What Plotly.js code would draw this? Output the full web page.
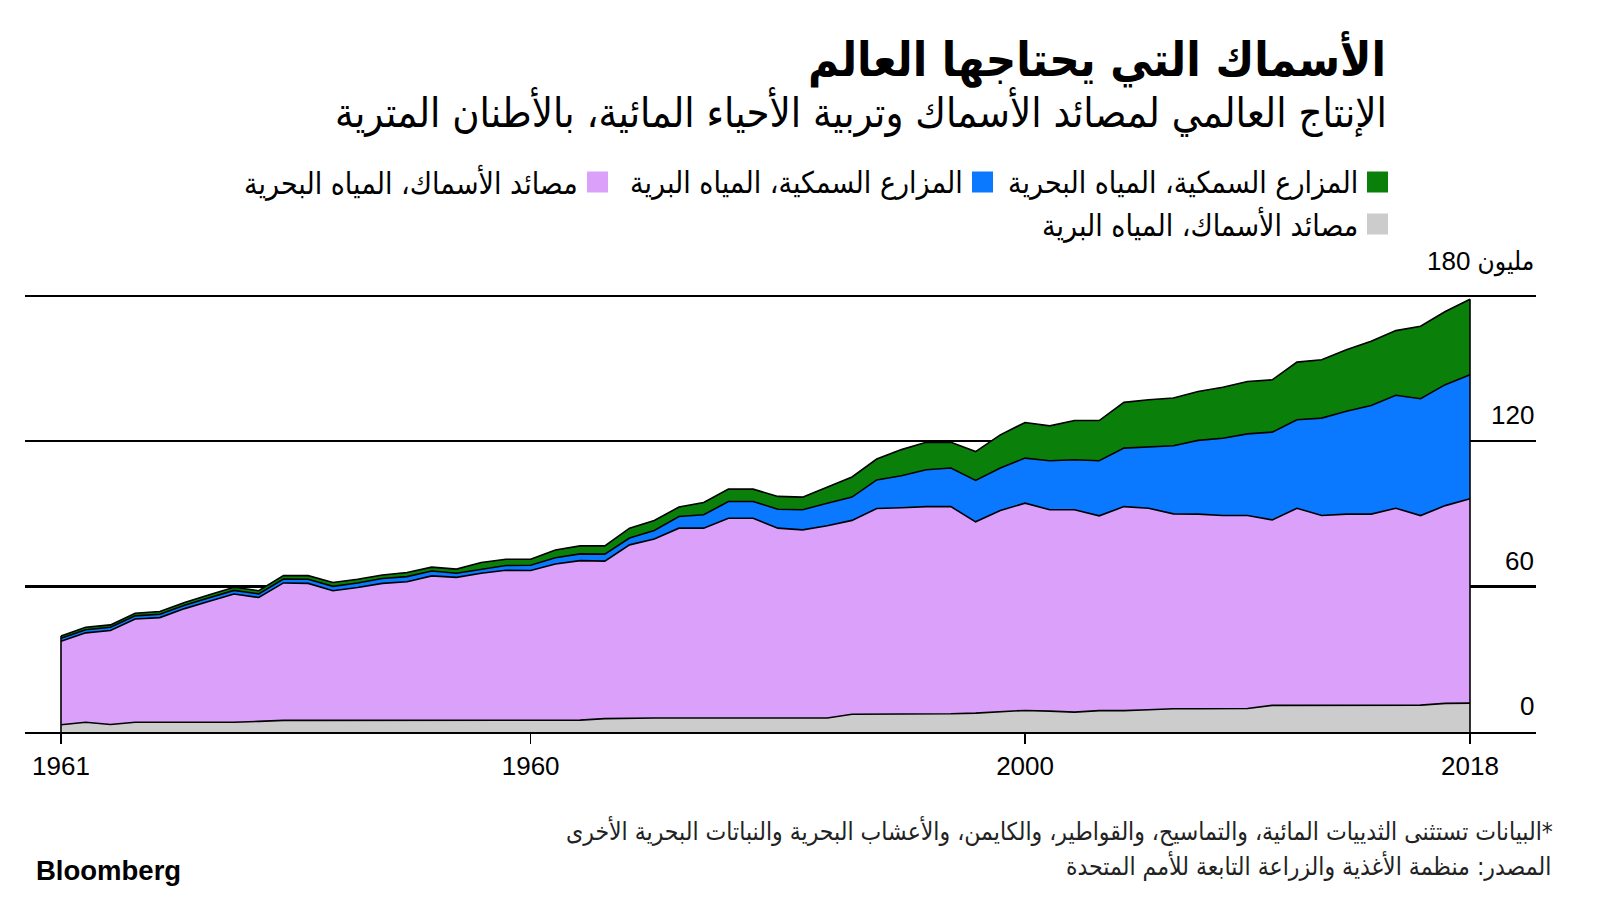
<!DOCTYPE html>
<html>
<head>
<meta charset="utf-8">
<script src="https://cdn.plot.ly/plotly-3.0.1.min.js"></script>
<style>html,body{margin:0;padding:0;background:#fff;}#chart{width:1600px;height:900px;}</style>
</head>
<body>
<div id="chart"></div>
<script>
// ---- Data (million tonnes) ----
const years = [1961,1962,1963,1964,1965,1966,1967,1968,1969,1970,1971,1972,1973,1974,1975,
  1976,1977,1978,1979,1980,1981,1982,1983,1984,1985,1986,1987,1988,1989,1990,
  1991,1992,1993,1994,1995,1996,1997,1998,1999,2000,2001,2002,2003,2004,
  2005,2006,2007,2008,2009,2010,2011,2012,2013,2014,2015,2016,2017,2018];

// Capture fisheries, inland waters (grey)
const inlandCapture = [3.0,4.0,3.1,4.0,4.0,4.0,4.0,4.0,4.4,4.8,4.8,4.8,4.8,4.8,4.8,
  4.8,4.8,4.8,4.8,4.8,4.8,4.9,5.5,5.8,5.8,5.8,5.8,5.8,5.8,5.8,
  5.8,5.8,7.3,7.3,7.3,7.4,7.5,7.8,8.2,8.9,8.6,8.2,8.8,8.8,
  9.2,9.6,9.6,9.6,9.7,11.0,11.0,11.0,11.0,11.0,11.0,11.1,11.8,11.9];

// Capture fisheries, marine waters (purple)
const marineCapture = [34.4,36.9,38.8,42.6,43.2,46.9,49.9,52.9,51.1,56.7,56.5,53.5,54.8,56.5,57.2,
  59.6,59.0,60.7,61.9,61.8,64.5,65.8,65.0,71.4,73.8,78.3,78.3,82.4,82.4,78.3,
  77.6,79.3,80.0,84.9,85.2,85.6,85.5,78.9,83.2,85.5,83.1,83.5,80.4,84.2,
  83.1,80.4,80.3,79.7,79.6,76.5,81.3,78.3,78.9,78.9,81.3,78.2,81.6,84.3];

// Aquaculture, inland waters (blue)
const inlandAqua = [1.3,1.3,1.3,1.3,1.4,1.4,1.5,1.5,1.5,1.6,1.7,1.8,1.9,2.0,2.1,
  2.0,1.7,1.7,2.0,2.2,2.6,2.8,2.9,2.8,3.5,4.8,5.5,6.9,6.9,7.8,
  8.3,9.3,9.6,11.8,13.2,15.2,15.9,17.1,17.5,18.6,20.2,20.6,22.7,24.1,
  25.2,28.1,30.4,31.9,33.7,36.2,36.5,40.2,42.4,44.8,46.6,48.2,49.9,51.2];

// Aquaculture, marine waters (green)
const marineAqua = [0.9,1.0,1.0,1.1,1.1,1.1,1.2,1.3,1.3,1.4,1.5,1.6,1.5,1.5,1.7,
  1.6,1.7,2.7,2.6,2.5,3.2,3.3,3.4,4.1,4.2,3.9,5.1,5.1,5.1,5.3,
  5.2,6.6,8.3,8.6,10.8,11.3,10.6,11.9,13.7,14.7,14.4,16.2,16.6,18.9,
  19.6,19.7,20.2,21.0,21.6,21.6,23.8,24.1,25.4,26.5,26.7,29.9,30.2,31.1];

const seriesNames = [
  'مصائد الأسماك، المياه البرية',
  'مصائد الأسماك، المياه البحرية',
  'المزارع السمكية، المياه البرية',
  'المزارع السمكية، المياه البحرية'
];
const seriesColors = ['#cccccc', '#daa0fa', '#0a78ff', '#0a800a'];

const xTickVals = [1961, 1980, 2000, 2018];
const xTickText = ['1961', '1960', '2000', '2018'];
const yTickVals = [0, 60, 120, 180];
const yTickText = ['0', '60', '120', 'مليون 180'];

// ---- Styles ----
const AR = 'DejaVu Sans Condensed, DejaVu Sans, sans-serif';
const NUM = 'Liberation Sans, Arial, DejaVu Sans Condensed, sans-serif';

const seriesData = [inlandCapture, marineCapture, inlandAqua, marineAqua];
const traces = seriesData.map((vals, i) => ({
  type: 'scatter', mode: 'lines', x: years, y: vals,
  stackgroup: 'one', name: seriesNames[i],
  fillcolor: seriesColors[i],
  line: {color: '#000', width: 1.6, shape: 'linear'},
  showlegend: false, hoverinfo: 'skip'
}));

// vertical edges of the stacked area (from data)
const totals = years.map((_, i) => seriesData.reduce((s, a) => s + a[i], 0));
const last = years.length - 1;
traces.push({type:'scatter', mode:'lines', x:[years[0], years[0]], y:[0, totals[0]],
  line:{color:'#000', width:1.6}, showlegend:false, hoverinfo:'skip'});
traces.push({type:'scatter', mode:'lines', x:[years[last], years[last]], y:[0, totals[last]],
  line:{color:'#000', width:1.6}, showlegend:false, hoverinfo:'skip'});

// pixel helpers for the layout furniture
const L = 25, W = 1511, B = 732, H = 446;
const px = p => (p - L) / W;
const py = p => (B - p) / H;

const annotations = [
  {text: 'الأسماك التي يحتاجها العالم', x: px(1388), y: py(59), xanchor: 'right', yanchor: 'middle',
   font: {family: AR, size: 47, color: '#000', weight: 'bold'}},
  {text: 'الإنتاج العالمي لمصائد الأسماك وتربية الأحياء المائية، بالأطنان المترية', x: px(1389), y: py(112),
   xanchor: 'right', yanchor: 'middle', font: {family: AR, size: 41.4, color: '#000'}},
  {text: '\u200F*البيانات تستثنى الثدييات المائية، والتماسيح، والقواطير، والكايمن، والأعشاب البحرية والنباتات البحرية الأخرى',
   x: px(1555), y: py(831), xanchor: 'right', yanchor: 'middle', font: {family: AR, size: 24.5, color: '#222'}},
  {text: 'المصدر: منظمة الأغذية والزراعة التابعة للأمم المتحدة', x: px(1553), y: py(866),
   xanchor: 'right', yanchor: 'middle', font: {family: AR, size: 24.5, color: '#222'}},
  {text: '<b>Bloomberg</b>', x: px(34), y: py(870), xanchor: 'left', yanchor: 'middle',
   font: {family: 'Liberation Sans, Arial, sans-serif', size: 27.5, color: '#000'}}
];

// y-axis tick labels sit above their gridlines, right-aligned to the plot edge
yTickVals.forEach((v, i) => {
  annotations.push({text: yTickText[i], xref: 'paper', yref: 'y', x: 1, y: v,
    xanchor: 'right', yanchor: 'middle', yshift: (i === yTickVals.length - 1) ? 34 : 26,
    showarrow: false, font: {family: NUM, size: 26, color: '#000'}});
});

// custom right-to-left legend
const legendItems = [
  {idx: 3, swR: 1388, row: 182},
  {idx: 2, swR: 993, row: 182},
  {idx: 1, swR: 608, row: 182},
  {idx: 0, swR: 1388, row: 224}
];
const shapes = [];
legendItems.forEach(it => {
  shapes.push({type: 'rect', xref: 'paper', yref: 'paper',
    x0: px(it.swR - 21), x1: px(it.swR), y0: py(it.row + 10.5), y1: py(it.row - 10.5),
    fillcolor: seriesColors[it.idx], line: {width: 0}});
  annotations.push({text: seriesNames[it.idx], x: px(it.swR - 28), y: py(it.row), xanchor: 'right', yanchor: 'middle',
    font: {family: AR, size: 30, color: '#000'}});
});
annotations.forEach(a => { if (!a.xref) a.xref = 'paper'; if (!a.yref) a.yref = 'paper'; a.showarrow = false; });

const layout = {
  width: 1600, height: 900,
  margin: {l: L, r: 1600 - L - W, t: B - H, b: 900 - B, pad: 0},
  paper_bgcolor: '#fff', plot_bgcolor: '#fff',
  showlegend: false,
  xaxis: {
    range: [1959.544, 2020.67], tickvals: xTickVals, ticktext: xTickText,
    ticks: 'outside', ticklen: 10, tickwidth: 1.5, tickcolor: '#000',
    showgrid: false, zeroline: false, showline: true, linecolor: '#000', linewidth: 2.2,
    tickfont: {family: NUM, size: 26, color: '#000'}, fixedrange: true
  },
  yaxis: {
    range: [0, 184], side: 'right', tickvals: yTickVals, showticklabels: false, ticks: '',
    showgrid: true, gridcolor: '#000', gridwidth: 2.2, zeroline: false, showline: false,
    fixedrange: true
  },
  annotations: annotations,
  shapes: shapes
};

Plotly.newPlot('chart', traces, layout, {displayModeBar: false, staticPlot: true});
</script>
</body>
</html>
